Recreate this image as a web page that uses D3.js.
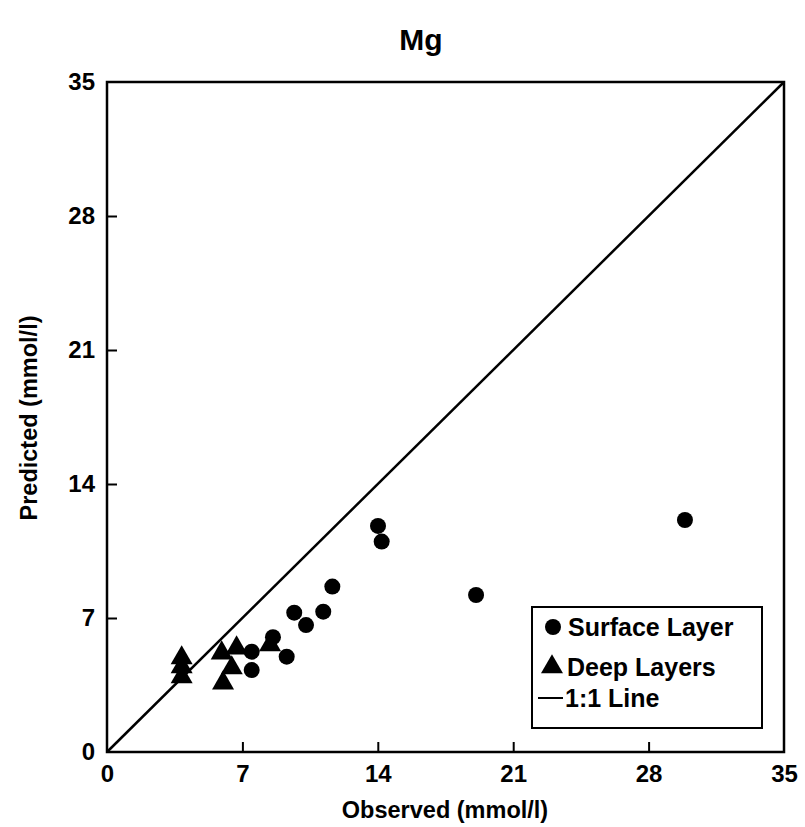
<!DOCTYPE html>
<html>
<head>
<meta charset="utf-8">
<script src="https://cdn.jsdelivr.net/npm/d3@7"></script>
<style>
  body { margin: 0; background: #fff; }
  text { font-family: "Liberation Sans", Arial, sans-serif; font-weight: bold; fill: #000; }
</style>
</head>
<body>
<div id="chart"></div>
<script>
// ---- data ----
const surfaceObs  = [19.08, 29.88, 14.01, 14.2, 11.65, 11.18, 9.68, 10.29, 7.48, 7.48, 9.29, 8.58];
const surfacePred = [8.2, 12.12, 11.81, 10.99, 8.64, 7.33, 7.28, 6.63, 5.24, 4.28, 4.98, 6.0];
const deepObs  = [3.86, 3.86, 3.86, 5.93, 6.7, 6.45, 6.0, 8.43];
const deepPred = [4.91, 4.44, 3.92, 5.17, 5.43, 4.39, 3.6, 5.59];
const tickValues = [0, 7, 14, 21, 28, 35];
const legendItems = ["Surface Layer", "Deep Layers", "1:1 Line"];

// ---- setup ----
const width = 805, height = 827;
const margin = {top: 82, right: 21, bottom: 75, left: 107};

const svg = d3.select("#chart").append("svg")
    .attr("width", width)
    .attr("height", height);

const x = d3.scaleLinear().domain([0, 35]).range([margin.left, width - margin.right]);
const y = d3.scaleLinear().domain([0, 35]).range([height - margin.bottom, margin.top]);

// title
svg.append("text")
    .attr("x", 421)
    .attr("y", 50)
    .attr("text-anchor", "middle")
    .style("font-size", "30px")
    .text("Mg");

// frame
svg.append("rect")
    .attr("x", x(0)).attr("y", y(35))
    .attr("width", x(35) - x(0)).attr("height", y(0) - y(35))
    .attr("fill", "none").attr("stroke", "#000").attr("stroke-width", 2.5);

// axes (ticks pointing inward)
const xAxis = svg.append("g")
    .attr("transform", `translate(0,${y(0)})`)
    .call(d3.axisBottom(x).tickValues(tickValues).tickSize(-10).tickPadding(13));
const yAxis = svg.append("g")
    .attr("transform", `translate(${x(0)},0)`)
    .call(d3.axisLeft(y).tickValues(tickValues).tickSize(-10).tickPadding(12));

[xAxis, yAxis].forEach(a => {
  a.select(".domain").remove();
  a.selectAll(".tick line").attr("stroke", "#000").attr("stroke-width", 2);
  a.selectAll(".tick text").style("font-size", "24px")
    .style("font-family", "'Liberation Sans', Arial, sans-serif").style("font-weight", "bold");
});
xAxis.selectAll(".tick").filter(d => d === 0 || d === 35).select("line").remove();
yAxis.selectAll(".tick").filter(d => d === 0 || d === 35).select("line").remove();

// axis titles
svg.append("text")
    .attr("x", 445)
    .attr("y", 818)
    .attr("text-anchor", "middle")
    .style("font-size", "23.5px")
    .text("Observed (mmol/l)");

svg.append("text")
    .attr("transform", `translate(37,418) rotate(-90)`)
    .attr("text-anchor", "middle")
    .style("font-size", "23.5px")
    .text("Predicted (mmol/l)");

// 1:1 line
svg.append("line")
    .attr("x1", x(0)).attr("y1", y(0))
    .attr("x2", x(35)).attr("y2", y(35))
    .attr("stroke", "#000").attr("stroke-width", 2.5);

// points
const tri = d3.symbol().type(d3.symbolTriangle).size(210);

svg.selectAll(".deep")
    .data(deepObs.map((v, i) => [v, deepPred[i]]))
    .enter().append("path")
    .attr("class", "deep")
    .attr("d", tri)
    .attr("transform", d => `translate(${x(d[0])},${y(d[1])})`)
    .attr("fill", "#000");

svg.selectAll(".surface")
    .data(surfaceObs.map((v, i) => [v, surfacePred[i]]))
    .enter().append("circle")
    .attr("class", "surface")
    .attr("cx", d => x(d[0]))
    .attr("cy", d => y(d[1]))
    .attr("r", 8)
    .attr("fill", "#000");

// legend
const lg = svg.append("g");
lg.append("rect")
    .attr("x", 532).attr("y", 607)
    .attr("width", 230).attr("height", 121)
    .attr("fill", "#fff").attr("stroke", "#000").attr("stroke-width", 2);

lg.append("circle").attr("cx", 553).attr("cy", 627).attr("r", 8).attr("fill", "#000");
lg.append("path").attr("d", tri).attr("transform", "translate(552,667)").attr("fill", "#000");
lg.append("line").attr("x1", 538).attr("x2", 563).attr("y1", 698).attr("y2", 698)
    .attr("stroke", "#000").attr("stroke-width", 2);

const legendY = [636, 676, 707];
const legendX = [568, 567, 565];
legendItems.forEach((t, i) => {
  lg.append("text")
      .attr("x", legendX[i])
      .attr("y", legendY[i])
      .style("font-size", "25px")
      .text(t);
});
</script>
</body>
</html>
